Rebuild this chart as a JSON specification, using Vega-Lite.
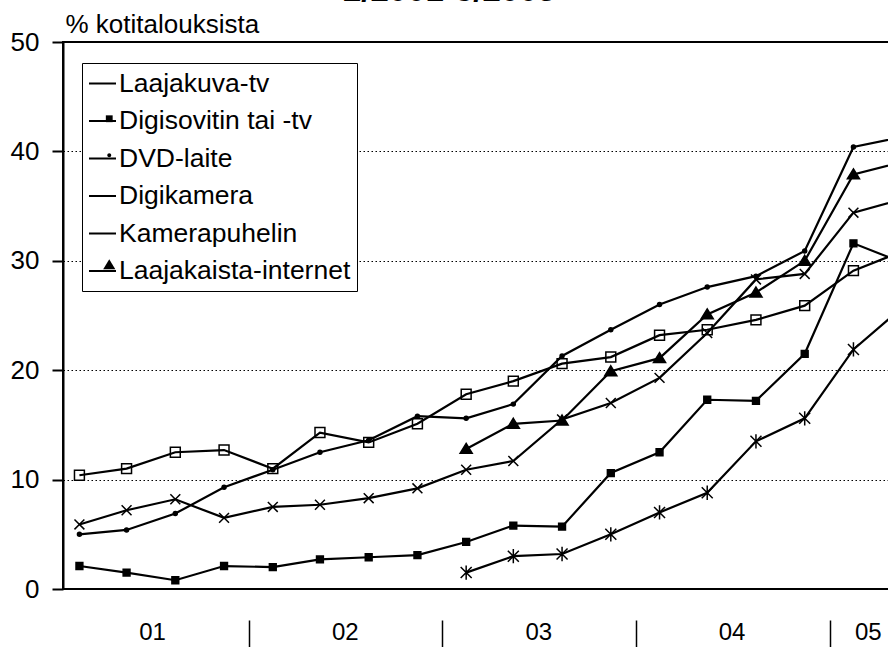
{
  "$schema": "https://vega.github.io/schema/vega-lite/v6.json",
  "width": 827,
  "height": 547,
  "autosize": {"type": "none"},
  "padding": {"left": 63, "top": 42, "right": 0, "bottom": 58},
  "background": "white",
  "title": {"text": "2/2001-3/2005", "fontSize": 33, "fontWeight": "bold", "font": "Liberation Sans", "anchor": "start", "frame": "group", "dx": 280, "dy": 27, "offset": 4, "baseline": "alphabetic", "color": "black"},
  "config": {
    "font": "Liberation Sans",
    "view": {"stroke": "black", "strokeWidth": 2}
  },
  "data": {"values": [
    {"date": "2001-02-15", "series": "Laajakuva-tv", "value": 10.4},
    {"date": "2001-05-15", "series": "Laajakuva-tv", "value": 11.0},
    {"date": "2001-08-15", "series": "Laajakuva-tv", "value": 12.5},
    {"date": "2001-11-15", "series": "Laajakuva-tv", "value": 12.7},
    {"date": "2002-02-15", "series": "Laajakuva-tv", "value": 11.0},
    {"date": "2002-05-15", "series": "Laajakuva-tv", "value": 14.3},
    {"date": "2002-08-15", "series": "Laajakuva-tv", "value": 13.4},
    {"date": "2002-11-15", "series": "Laajakuva-tv", "value": 15.1},
    {"date": "2003-02-15", "series": "Laajakuva-tv", "value": 17.8},
    {"date": "2003-05-15", "series": "Laajakuva-tv", "value": 19.0},
    {"date": "2003-08-15", "series": "Laajakuva-tv", "value": 20.6},
    {"date": "2003-11-15", "series": "Laajakuva-tv", "value": 21.2},
    {"date": "2004-02-15", "series": "Laajakuva-tv", "value": 23.2},
    {"date": "2004-05-15", "series": "Laajakuva-tv", "value": 23.7},
    {"date": "2004-08-15", "series": "Laajakuva-tv", "value": 24.6},
    {"date": "2004-11-15", "series": "Laajakuva-tv", "value": 25.9},
    {"date": "2005-02-15", "series": "Laajakuva-tv", "value": 29.1},
    {"date": "2005-05-15", "series": "Laajakuva-tv", "value": 30.8},
    {"date": "2001-02-15", "series": "Digisovitin tai -tv", "value": 2.1},
    {"date": "2001-05-15", "series": "Digisovitin tai -tv", "value": 1.5},
    {"date": "2001-08-15", "series": "Digisovitin tai -tv", "value": 0.8},
    {"date": "2001-11-15", "series": "Digisovitin tai -tv", "value": 2.1},
    {"date": "2002-02-15", "series": "Digisovitin tai -tv", "value": 2.0},
    {"date": "2002-05-15", "series": "Digisovitin tai -tv", "value": 2.7},
    {"date": "2002-08-15", "series": "Digisovitin tai -tv", "value": 2.9},
    {"date": "2002-11-15", "series": "Digisovitin tai -tv", "value": 3.1},
    {"date": "2003-02-15", "series": "Digisovitin tai -tv", "value": 4.3},
    {"date": "2003-05-15", "series": "Digisovitin tai -tv", "value": 5.8},
    {"date": "2003-08-15", "series": "Digisovitin tai -tv", "value": 5.7},
    {"date": "2003-11-15", "series": "Digisovitin tai -tv", "value": 10.6},
    {"date": "2004-02-15", "series": "Digisovitin tai -tv", "value": 12.5},
    {"date": "2004-05-15", "series": "Digisovitin tai -tv", "value": 17.3},
    {"date": "2004-08-15", "series": "Digisovitin tai -tv", "value": 17.2},
    {"date": "2004-11-15", "series": "Digisovitin tai -tv", "value": 21.5},
    {"date": "2005-02-15", "series": "Digisovitin tai -tv", "value": 31.6},
    {"date": "2005-05-15", "series": "Digisovitin tai -tv", "value": 29.9},
    {"date": "2001-02-15", "series": "DVD-laite", "value": 5.0},
    {"date": "2001-05-15", "series": "DVD-laite", "value": 5.4},
    {"date": "2001-08-15", "series": "DVD-laite", "value": 6.9},
    {"date": "2001-11-15", "series": "DVD-laite", "value": 9.3},
    {"date": "2002-02-15", "series": "DVD-laite", "value": 10.9},
    {"date": "2002-05-15", "series": "DVD-laite", "value": 12.5},
    {"date": "2002-08-15", "series": "DVD-laite", "value": 13.6},
    {"date": "2002-11-15", "series": "DVD-laite", "value": 15.8},
    {"date": "2003-02-15", "series": "DVD-laite", "value": 15.6},
    {"date": "2003-05-15", "series": "DVD-laite", "value": 16.9},
    {"date": "2003-08-15", "series": "DVD-laite", "value": 21.3},
    {"date": "2003-11-15", "series": "DVD-laite", "value": 23.7},
    {"date": "2004-02-15", "series": "DVD-laite", "value": 26.0},
    {"date": "2004-05-15", "series": "DVD-laite", "value": 27.6},
    {"date": "2004-08-15", "series": "DVD-laite", "value": 28.6},
    {"date": "2004-11-15", "series": "DVD-laite", "value": 30.9},
    {"date": "2005-02-15", "series": "DVD-laite", "value": 40.4},
    {"date": "2005-05-15", "series": "DVD-laite", "value": 41.3},
    {"date": "2001-02-15", "series": "Digikamera", "value": 5.9},
    {"date": "2001-05-15", "series": "Digikamera", "value": 7.2},
    {"date": "2001-08-15", "series": "Digikamera", "value": 8.2},
    {"date": "2001-11-15", "series": "Digikamera", "value": 6.5},
    {"date": "2002-02-15", "series": "Digikamera", "value": 7.5},
    {"date": "2002-05-15", "series": "Digikamera", "value": 7.7},
    {"date": "2002-08-15", "series": "Digikamera", "value": 8.3},
    {"date": "2002-11-15", "series": "Digikamera", "value": 9.2},
    {"date": "2003-02-15", "series": "Digikamera", "value": 10.9},
    {"date": "2003-05-15", "series": "Digikamera", "value": 11.7},
    {"date": "2003-08-15", "series": "Digikamera", "value": 15.5},
    {"date": "2003-11-15", "series": "Digikamera", "value": 17.0},
    {"date": "2004-02-15", "series": "Digikamera", "value": 19.3},
    {"date": "2004-05-15", "series": "Digikamera", "value": 23.4},
    {"date": "2004-08-15", "series": "Digikamera", "value": 28.3},
    {"date": "2004-11-15", "series": "Digikamera", "value": 28.8},
    {"date": "2005-02-15", "series": "Digikamera", "value": 34.4},
    {"date": "2005-05-15", "series": "Digikamera", "value": 35.6},
    {"date": "2003-02-15", "series": "Kamerapuhelin", "value": 1.5},
    {"date": "2003-05-15", "series": "Kamerapuhelin", "value": 3.0},
    {"date": "2003-08-15", "series": "Kamerapuhelin", "value": 3.2},
    {"date": "2003-11-15", "series": "Kamerapuhelin", "value": 5.0},
    {"date": "2004-02-15", "series": "Kamerapuhelin", "value": 7.0},
    {"date": "2004-05-15", "series": "Kamerapuhelin", "value": 8.8},
    {"date": "2004-08-15", "series": "Kamerapuhelin", "value": 13.5},
    {"date": "2004-11-15", "series": "Kamerapuhelin", "value": 15.6},
    {"date": "2005-02-15", "series": "Kamerapuhelin", "value": 21.9},
    {"date": "2005-05-15", "series": "Kamerapuhelin", "value": 25.6},
    {"date": "2003-02-15", "series": "Laajakaista-internet", "value": 12.8},
    {"date": "2003-05-15", "series": "Laajakaista-internet", "value": 15.1},
    {"date": "2003-08-15", "series": "Laajakaista-internet", "value": 15.4},
    {"date": "2003-11-15", "series": "Laajakaista-internet", "value": 19.9},
    {"date": "2004-02-15", "series": "Laajakaista-internet", "value": 21.1},
    {"date": "2004-05-15", "series": "Laajakaista-internet", "value": 25.1},
    {"date": "2004-08-15", "series": "Laajakaista-internet", "value": 27.1},
    {"date": "2004-11-15", "series": "Laajakaista-internet", "value": 30.0},
    {"date": "2005-02-15", "series": "Laajakaista-internet", "value": 37.9},
    {"date": "2005-05-15", "series": "Laajakaista-internet", "value": 39.0}
  ]},
  "encoding": {
    "y": {
      "field": "value", "type": "quantitative",
      "scale": {"domain": [0, 50], "nice": false},
      "axis": {
        "values": [0, 10, 20, 30, 40, 50],
        "grid": true, "gridColor": "black", "gridDash": [1.5, 2.5], "gridWidth": 1, "gridOpacity": 1,
        "domain": true, "domainColor": "black", "domainWidth": 2,
        "ticks": true, "tickColor": "black", "tickSize": 11, "tickWidth": 2,
        "labelFontSize": 26, "labelColor": "black", "labelPadding": 13, "labelFlush": false,
        "title": "% kotitalouksista", "titleAngle": 0, "titleAlign": "left", "titleBaseline": "alphabetic",
        "titleX": 2, "titleY": -10, "titleFontSize": 26, "titleFontWeight": "normal", "titleColor": "black"
      }
    }
  },
  "layer": [
    {
      "mark": {"type": "line", "strokeWidth": 2.2, "clip": true},
      "encoding": {
        "x": {
          "field": "date", "type": "temporal",
          "scale": {"domain": [{"year": 2001, "month": 1, "date": 15}, {"year": 2005, "month": 4, "date": 25}], "nice": false},
          "axis": {
            "orient": "bottom", "title": null,
            "values": [{"year": 2002, "month": 1, "date": 1}, {"year": 2003, "month": 1, "date": 1}, {"year": 2004, "month": 1, "date": 1}, {"year": 2005, "month": 1, "date": 1}],
            "domain": false, "labels": false, "grid": false,
            "ticks": true, "tickSize": 30, "tickWidth": 1.5, "tickColor": "black", "offset": 31
          }
        },
        "stroke": {
          "field": "series", "type": "nominal",
          "sort": ["Laajakuva-tv", "Digisovitin tai -tv", "DVD-laite", "Digikamera", "Kamerapuhelin", "Laajakaista-internet"],
          "scale": {"range": ["black", "black", "black", "black", "black", "black"]},
          "legend": {
            "title": null, "orient": "none", "legendX": 19, "legendY": 21,
            "fillColor": "white", "strokeColor": "black", "padding": 6,
            "labelFontSize": 26.5, "labelColor": "black", "labelOffset": 2, "labelLimit": 400,
            "symbolType": "stroke", "symbolSize": 729, "symbolStrokeWidth": 2, "rowPadding": 9.5,
            "encode": {"legend": {"strokeWidth": {"value": 2}}}
          }
        }
      }
    },
    {
      "mark": {"type": "point", "stroke": "black", "strokeWidth": 1.5, "opacity": 1, "size": 121, "clip": true},
      "encoding": {
        "x": {
          "field": "date", "type": "temporal",
          "scale": {"domain": [{"year": 2001, "month": 1, "date": 15}, {"year": 2005, "month": 4, "date": 25}], "nice": false},
          "axis": {
            "orient": "bottom", "title": null,
            "values": [{"year": 2001, "month": 7, "date": 2}, {"year": 2002, "month": 7, "date": 1}, {"year": 2003, "month": 7, "date": 1}, {"year": 2004, "month": 6, "date": 30}, {"year": 2005, "month": 3, "date": 14}],
            "format": "%y",
            "domain": false, "ticks": false, "tickSize": 0, "grid": false,
            "labelPadding": 31, "labelBaseline": "top", "labelFontSize": 24, "labelColor": "black",
            "labelFlush": false, "labelOverlap": false, "labelBound": false
          }
        },
        "shape": {
          "field": "series", "type": "nominal",
          "scale": {
            "domain": ["Laajakuva-tv", "Digisovitin tai -tv", "DVD-laite", "Digikamera", "Kamerapuhelin", "Laajakaista-internet"],
            "range": ["M-0.9,-0.9H0.9V0.9H-0.9Z", "M-0.62,-0.62H0.62V0.62H-0.62Z", "M-0.36,0A0.36,0.36 0 1,0 0.36,0A0.36,0.36 0 1,0 -0.36,0Z", "M-0.9,-0.9L0.9,0.9M-0.9,0.9L0.9,-0.9", "M-1,-1L1,1M-1,1L1,-1M0,-1.3V1.3", "M0,-1L1.1,0.8L-1.1,0.8Z"]
          },
          "legend": {
            "title": null, "orient": "none", "legendX": 27, "legendY": 21,
            "padding": 6, "labelFontSize": 26.5, "labelOpacity": 0, "labelOffset": 2, "labelLimit": 400,
            "symbolSize": 121, "symbolStrokeWidth": 1.5, "symbolStrokeColor": "black", "rowPadding": 9.5,
            "encode": {"symbols": {"stroke": {"value": "black"}, "strokeWidth": {"value": 1.5}, "opacity": {"value": 1}}}
          }
        },
        "fill": {
          "field": "series", "type": "nominal",
          "scale": {
            "domain": ["Laajakuva-tv", "Digisovitin tai -tv", "DVD-laite", "Digikamera", "Kamerapuhelin", "Laajakaista-internet"],
            "range": ["transparent", "black", "black", "black", "black", "black"]
          },
          "legend": {
            "title": null, "orient": "none", "legendX": 27, "legendY": 21,
            "padding": 6, "labelFontSize": 26.5, "labelOpacity": 0, "labelOffset": 2, "labelLimit": 400,
            "symbolSize": 121, "symbolStrokeWidth": 1.5, "symbolStrokeColor": "black", "rowPadding": 9.5,
            "encode": {"symbols": {"stroke": {"value": "black"}, "strokeWidth": {"value": 1.5}, "opacity": {"value": 1}}}
          }
        }
      }
    }
  ],
  "resolve": {"axis": {"x": "independent"}}
}
